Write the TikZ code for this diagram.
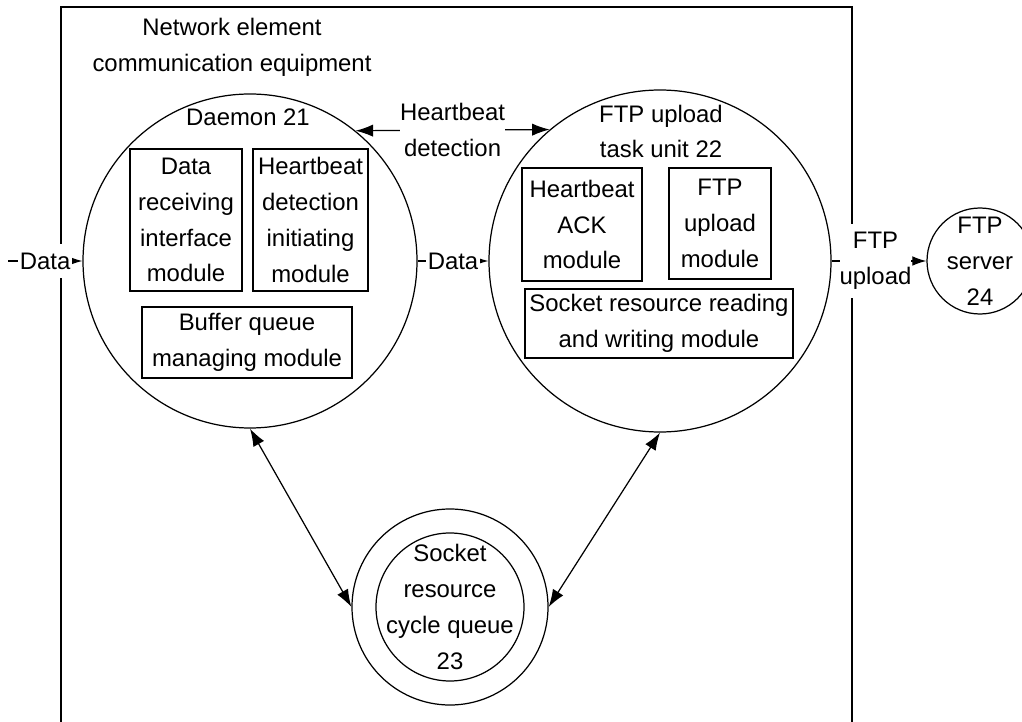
\documentclass[tikz,border=0pt]{standalone}
\usepackage{fontspec}
\setmainfont{Liberation Sans}
\usetikzlibrary{arrows.meta}
\begin{document}
\begin{tikzpicture}[line width=0.7pt, font=\fontsize{13.6}{20.4}\selectfont,
		>={Latex[length=8pt,width=5.5pt]},
		ring/.style={draw, circle, inner sep=0pt},
		module/.style={draw, align=center, inner sep=0pt},
		tag/.style={fill=white, align=center, inner xsep=1pt, inner ysep=5pt},
		link/.style={<->, >={Latex[length=10pt,width=7pt]}}]
		\useasboundingbox (0,0) rectangle (20.44,-14.44);

		\draw (1.22,-14.44) |- (17.04,-0.14) -- (17.04,-14.44);
		\node[align=center] (ne) at (4.64,-0.95) {Network element\\communication equipment};

		\node[ring, minimum size=6.68cm] (dmn) at (5,-5.22) {};
		\node (dmnlbl) at (4.96,-2.34) {Daemon 21};
		\node[module, minimum width=2.24cm, minimum height=2.84cm] (rcv) at (3.72,-4.40) {Data\\receiving\\interface\\module};
		\node[module, minimum width=2.30cm, minimum height=2.84cm] (hbi) at (6.21,-4.40) {Heartbeat\\detection\\initiating\\module};
		\node[module, minimum width=4.20cm, minimum height=1.42cm] (buf) at (4.94,-6.85) {Buffer queue\\managing module};

		\node[ring, minimum size=6.84cm] (ftp) at (13.2,-5.22) {};
		\node[align=center] (ftplbl) at (13.22,-2.63) {FTP upload\\task unit 22};
		\node[module, minimum width=2.40cm, minimum height=2.26cm] (ack) at (11.64,-4.49) {Heartbeat\\ACK\\module};
		\node[module, minimum width=2.04cm, minimum height=2.22cm] (upm) at (14.40,-4.47) {FTP\\upload\\module};
		\node[module, minimum width=5.36cm, minimum height=1.38cm] (rw) at (13.18,-6.47) {Socket resource reading\\and writing module};

		\node[ring, minimum size=3.92cm] (sock) at (9,-12.14) {};
		\node[ring, minimum size=2.96cm] (sockin) at (sock) {};
		\node[align=center] (socklbl) at (sock) {Socket\\resource\\cycle queue\\23};

		\node[ring, minimum size=2.12cm] (srv) at (19.6,-5.22) {};
		\node[align=center] (srvlbl) at (srv) {FTP\\server\\24};

		\coordinate (in) at (0.16,-5.22);
		\draw[->] (in) -- node[tag] (d1) {Data} (dmn.west);
		\draw[->] (dmn.east) -- node[tag] (d2) {Data} (ftp.west);
		\draw[->] (ftp.east) -- node[tag, inner xsep=0pt, xshift=-2pt] (up) {FTP\\upload} (srv.west);
		\draw[link] (dmn.51.7) -- node[tag, inner sep=0pt] (hb) {Heartbeat\\detection} (ftp.130);
		\draw[link] (dmn.south) -- (sock.west);
		\draw[link] (ftp.south) -- (sock.east);
	\end{tikzpicture}
\end{document}
